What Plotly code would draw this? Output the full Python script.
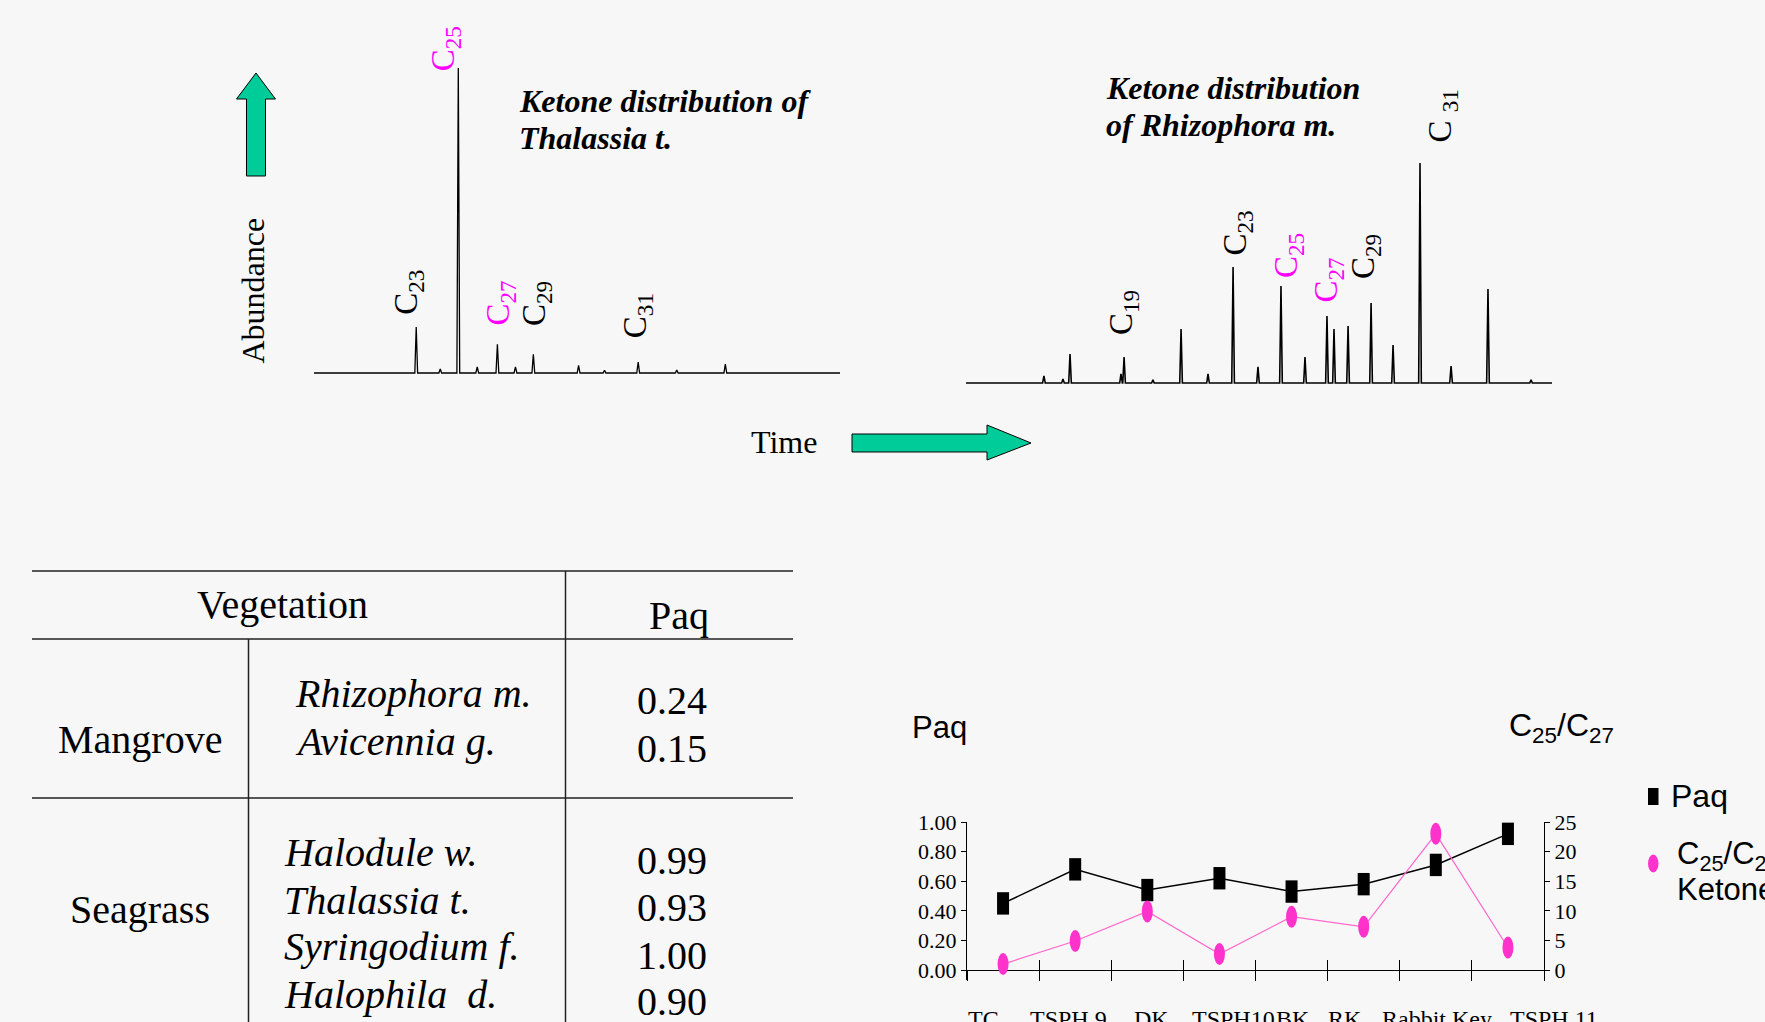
import plotly.graph_objects as go

W, H = 1765, 1022
SERIF = "Liberation Serif, Times New Roman, serif"
SANS = "Liberation Sans, Arial, sans-serif"
BG = "#f7f7f7"
GREEN = "#00cc99"
MAGENTA = "#ff00ff"
PINK_FILL = "#ff33cc"
PINK_LINE = "#ff66cc"

# ---------------- data ----------------
# Ketone chromatogram of Thalassia t. (retention, relative abundance %)
thal_rt = [20.83, 22.20, 23.23, 24.31, 25.46, 26.49, 27.51, 30.09, 31.57, 33.49, 35.69, 38.46]
thal_abund = [15.1, 1.3, 100.0, 2.0, 9.4, 2.0, 6.1, 2.5, 0.9, 3.6, 1.0, 2.9]
thal_run = [15.0, 45.0]
thal_peak_names = ["C<sub>23</sub>", "C<sub>25</sub>", "C<sub>27</sub>", "C<sub>29</sub>", "C<sub>31</sub>"]
thal_peak_idx = [0, 2, 4, 6, 9]

# Ketone chromatogram of Rhizophora m.
rhiz_rt = [5.32, 6.62, 7.10, 10.58, 10.79, 12.76, 14.68, 16.52, 18.23, 19.93, 21.50,
           23.14, 24.64, 25.12, 26.08, 27.65, 29.15, 30.99, 33.11, 35.63, 38.57]
rhiz_abund = [3.2, 1.8, 13.2, 4.1, 11.8, 1.4, 24.5, 4.1, 52.7, 7.3, 44.1,
              11.8, 30.5, 24.5, 25.9, 36.4, 17.3, 100.0, 7.7, 42.7, 1.4]
rhiz_run = [0.0, 40.0]
rhiz_peak_names = ["C<sub>19</sub>", "C<sub>23</sub>", "C<sub>25</sub>", "C<sub>27</sub>", "C<sub>29</sub>", "C <sub>31</sub>"]
rhiz_peak_idx = [4, 8, 10, 12, 15, 17]

# Paq table
veg_groups = ["Mangrove", "Seagrass"]
veg_species = [["Rhizophora m.", "Avicennia g."],
               ["Halodule w.", "Thalassia t.", "Syringodium f.", "Halophila\u00a0 d."]]
veg_paq = [[0.24, 0.15], [0.99, 0.93, 1.00, 0.90]]

# Sites chart
sites = ["TC", "TSPH 9", "DK", "TSPH10", "BK", "RK", "Rabbit Key", "TSPH 11"]
site_paq = [0.45, 0.68, 0.54, 0.62, 0.53, 0.58, 0.71, 0.92]
site_c25_c27 = [1.0, 4.9, 9.9, 2.7, 9.0, 7.3, 23.0, 3.8]

# ---------------- layout helpers ----------------
def px(x):
    return x / W

def py(y):
    return 1 - y / H

def ydom(p0, p100, lo, hi):
    s = (p0 - p100) / 100.0
    return [py(p0 - lo * s), py(p0 - hi * s)]

def spikes(rt, ab, run, hw):
    xs, ys = [run[0]], [0.0]
    for t, a in sorted(zip(rt, ab)):
        xs += [t - hw, t, t + hw]
        ys += [0.0, a, 0.0]
    xs.append(run[1])
    ys.append(0.0)
    return xs, ys

fig = go.Figure()

cx, cy = spikes(thal_rt, thal_abund, thal_run, 0.08)
fig.add_trace(go.Scatter(x=cx, y=cy, mode="lines", line=dict(color="black", width=1.3),
                         xaxis="x", yaxis="y", hoverinfo="skip"))
cx, cy = spikes(rhiz_rt, rhiz_abund, rhiz_run, 0.09)
fig.add_trace(go.Scatter(x=cx, y=cy, mode="lines", line=dict(color="black", width=1.6),
                         xaxis="x2", yaxis="y2", hoverinfo="skip"))

# sites chart
fig.add_trace(go.Scatter(x=sites, y=site_paq, mode="lines", line=dict(color="black", width=1.5),
                         xaxis="x3", yaxis="y3", cliponaxis=False))
fig.add_trace(go.Scatter(x=sites, y=site_paq, mode="markers",
                         marker=dict(symbol="line-ns", size=16, color="black",
                                     line=dict(width=12, color="black")),
                         xaxis="x3", yaxis="y3", cliponaxis=False))
fig.add_trace(go.Scatter(x=sites, y=site_c25_c27, mode="lines", line=dict(color=PINK_LINE, width=1.2),
                         xaxis="x3", yaxis="y4", cliponaxis=False))
fig.add_trace(go.Scatter(x=sites, y=site_paq, mode="markers", marker=dict(opacity=0),
                         xaxis="x4", yaxis="y3", hoverinfo="skip"))

shapes = []
for s, v in zip(sites, site_c25_c27):
    shapes.append(dict(type="circle", xref="x3", yref="y4", xsizemode="pixel", ysizemode="pixel",
                       xanchor=s, yanchor=v, x0=-5.5, x1=5.5, y0=-11, y1=11,
                       fillcolor=PINK_FILL, line=dict(width=0)))

def poly(points):
    return "M " + " L ".join(f"{px(x):.5f},{py(y):.5f}" for x, y in points) + " Z"

# green arrows
shapes.append(dict(type="path", xref="paper", yref="paper", fillcolor=GREEN,
                   line=dict(color="black", width=1),
                   path=poly([(246.5, 176), (265.5, 176), (265.5, 99), (275.5, 99), (256, 73),
                              (236.5, 99), (246.5, 99)])))
shapes.append(dict(type="path", xref="paper", yref="paper", fillcolor=GREEN,
                   line=dict(color="black", width=1),
                   path=poly([(852, 434), (987, 434), (987, 425), (1031, 443), (987, 460),
                              (987, 452), (852, 452)])))

# table rules
TL = dict(color="#222222", width=1.5)
for yy in [571, 639, 798]:
    shapes.append(dict(type="line", xref="paper", yref="paper", x0=px(32), x1=px(793),
                       y0=py(yy), y1=py(yy), line=TL))
shapes.append(dict(type="line", xref="paper", yref="paper", x0=px(565.5), x1=px(565.5),
                   y0=py(571), y1=py(1030), line=TL))
shapes.append(dict(type="line", xref="paper", yref="paper", x0=px(248.5), x1=px(248.5),
                   y0=py(639), y1=py(1030), line=TL))

# legend swatches
shapes.append(dict(type="rect", xref="paper", yref="paper", x0=px(1648), x1=px(1658.5),
                   y0=py(805), y1=py(788), fillcolor="black", line=dict(width=0)))
shapes.append(dict(type="circle", xref="paper", yref="paper", x0=px(1648), x1=px(1658.5),
                   y0=py(872.5), y1=py(854.5), fillcolor=PINK_FILL, line=dict(width=0)))

ann = []

def text(x, y, t, size, family=SERIF, color="black", xanchor="center", yanchor="middle",
         angle=0, xref="paper", yref="paper", xshift=0):
    ann.append(dict(x=x, y=y, xref=xref, yref=yref, text=t, showarrow=False,
                    font=dict(family=family, size=size, color=color), xanchor=xanchor,
                    yanchor=yanchor, textangle=angle, xshift=xshift))

# chromatogram titles and axis words
TS = 32
text(px(517), py(101), "<b><i>Ketone distribution of</i></b>", TS, xanchor="left")
text(px(517), py(138), "<b><i>Thalassia t.</i></b>", TS, xanchor="left")
text(px(1104), py(88), "<b><i>Ketone distribution</i></b>", TS, xanchor="left")
text(px(1104), py(125), "<b><i>of Rhizophora m.</i></b>", TS, xanchor="left")
text(px(252.5), py(291), "Abundance", 32, angle=-90)
text(px(784), py(442), "Time", 32)

# peak labels
LS = 33
thal_label_y = [26.4, 106.4, 23.1, 22.9, 18.7]
thal_label_dx = [-8, -12.5, 3.5, 2.5, 0]
for name, i, ly, dx in zip(thal_peak_names, thal_peak_idx, thal_label_y, thal_label_dx):
    col = MAGENTA if ("25" in name or "27" in name) else "black"
    text(thal_rt[i], ly, name, LS, color=col, angle=-90, xref="x", yref="y", xshift=dx)

rhiz_label_y = [31.8, 68.2, 58.2, 46.8, 57.3, 121.1]
rhiz_label_dx = [-1, 4.5, 8, 1.5, -5, 23]
for name, i, ly, dx in zip(rhiz_peak_names, rhiz_peak_idx, rhiz_label_y, rhiz_label_dx):
    col = MAGENTA if ("25" in name or "27" in name) else "black"
    text(rhiz_rt[i], ly, name, LS, color=col, angle=-90, xref="x2", yref="y2", xshift=dx)

# table text
FS = 40
text(px(282), py(604), "Vegetation", FS)
text(px(679), py(615.5), "Paq", FS)
group_y = [739.7, 909.7]
species_y = [[693, 741], [852.5, 900, 946.7, 994]]
value_y = [[700.8, 748.7], [860.8, 907.5, 955, 1001.7]]
species_x = [292.5, 281.5]
for g, gy, sp, sy, vals, vy, sx in zip(veg_groups, group_y, veg_species, species_y, veg_paq, value_y, species_x):
    text(px(139.5), py(gy), g, FS)
    for name, yy in zip(sp, sy):
        text(px(sx), py(yy), f"<i>{name}</i>", FS, xanchor="left")
    for v, yy in zip(vals, vy):
        text(px(672), py(yy), f"{v:.2f}", FS)

# sites chart labels
text(px(910), py(727), "Paq", 31, family=SANS, xanchor="left")
text(px(1507), py(727), "C<sub>25</sub>/C<sub>27</sub>", 32, family=SANS, xanchor="left")
site_label_dx = [-20, -7, 4, 14, 1, -19, 1, 46]
for s, dx in zip(sites, site_label_dx):
    text(s, py(1019), s, 24, xref="x3", xshift=dx)

# legend text
text(px(1669), py(796), "Paq", 32, family=SANS, xanchor="left")
text(px(1675), py(856), "C<sub>25</sub>/C<sub>27</sub>", 31, family=SANS, xanchor="left")
text(px(1675), py(889), "Ketone", 31, family=SANS, xanchor="left")

LO = -10.0 / 148.0
axis_common = dict(showgrid=False, zeroline=False, automargin=False)
TF = dict(family=SERIF, size=22, color="black")

fig.update_layout(
    width=W, height=H,
    margin=dict(l=0, r=0, t=0, b=0, pad=0, autoexpand=False),
    paper_bgcolor=BG, plot_bgcolor="rgba(0,0,0,0)",
    showlegend=False,
    xaxis=dict(domain=[px(314), px(840)], range=thal_run, visible=False, anchor="y", automargin=False),
    yaxis=dict(domain=ydom(373, 68, -2, 120), range=[-2, 120], visible=False, anchor="x", automargin=False),
    xaxis2=dict(domain=[px(966), px(1552)], range=rhiz_run, visible=False, anchor="y2", automargin=False),
    yaxis2=dict(domain=ydom(383, 163, -2, 130), range=[-2, 130], visible=False, anchor="x2", automargin=False),
    xaxis3=dict(domain=[px(967), px(1544)], type="category", categoryorder="array",
                categoryarray=sites, range=[-0.5, len(sites) - 0.5],
                anchor="free", position=py(970), showline=True, linecolor="black", linewidth=1,
                ticks="outside", ticklen=10, tickcolor="black", tickwidth=1,
                tickson="boundaries", showticklabels=False, **axis_common),
    xaxis4=dict(domain=[px(967), px(1544)], type="category", categoryorder="array",
                categoryarray=sites, range=[-0.5, len(sites) - 0.5], overlaying="x3",
                anchor="free", position=py(970), showline=False,
                ticks="inside", ticklen=10, tickcolor="black", tickwidth=1,
                tickson="boundaries", showticklabels=False, **axis_common),
    yaxis3=dict(domain=[py(980), py(822)], range=[LO, 1.0], anchor="x3",
                showline=True, linecolor="black", linewidth=1,
                tickvals=[0, 0.2, 0.4, 0.6, 0.8, 1.0], tickformat=".2f",
                ticks="outside", ticklen=5, tickcolor="black",
                tickfont=TF, **axis_common),
    yaxis4=dict(range=[LO * 25, 25], overlaying="y3", side="right", anchor="x3",
                showline=True, linecolor="black", linewidth=1,
                tickvals=[0, 5, 10, 15, 20, 25],
                ticks="outside", ticklen=5, tickcolor="black",
                tickfont=TF, **axis_common),
    shapes=shapes,
    annotations=ann,
)

fig.write_html("out.html", config={"displayModeBar": False},
               post_script="document.body.style.margin='0';document.body.style.overflow='hidden';")
